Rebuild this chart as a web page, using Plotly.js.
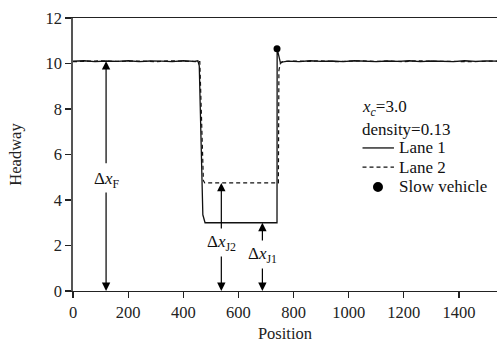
<!DOCTYPE html>
<html>
<head>
<meta charset="utf-8">
<script src="https://cdn.plot.ly/plotly-3.0.1.min.js"></script>
<style>html,body{margin:0;padding:0;background:#fff;}#chart{width:497px;height:347px;}</style>
</head>
<body>
<div id="chart"></div>
<script>
// Lane 1 headway profile (solid)
const lane1Pos = [0, 40, 80, 120, 160, 200, 240, 280, 320, 360, 400, 440, 453, 458, 471, 479, 520, 600, 680, 740, 740.5, 752, 780, 820, 860, 900, 940, 980, 1020, 1060, 1100, 1140, 1180, 1220, 1260, 1300, 1340, 1380, 1420, 1460, 1500, 1540];
const lane1Head = [10.10, 10.12, 10.08, 10.11, 10.09, 10.12, 10.08, 10.11, 10.10, 10.08, 10.12, 10.09, 10.12, 9.9, 3.35, 3.0, 3.0, 3.0, 3.0, 3.0, 10.65, 10.05, 10.1, 10.08, 10.12, 10.09, 10.11, 10.08, 10.12, 10.1, 10.08, 10.11, 10.09, 10.12, 10.08, 10.11, 10.1, 10.08, 10.12, 10.09, 10.11, 10.1];
// Lane 2 headway profile (dashed)
const lane2Pos = [0, 50, 100, 150, 200, 250, 300, 350, 400, 460, 473, 478, 540, 620, 700, 745, 747, 752, 760, 800, 850, 900, 950, 1000, 1050, 1100, 1150, 1200, 1250, 1300, 1350, 1400, 1450, 1500, 1540];
const lane2Head = [10.08, 10.1, 10.12, 10.09, 10.1, 10.11, 10.08, 10.12, 10.1, 10.08, 4.85, 4.75, 4.75, 4.75, 4.75, 4.75, 9.7, 10.0, 10.08, 10.11, 10.09, 10.12, 10.08, 10.1, 10.12, 10.09, 10.11, 10.08, 10.12, 10.1, 10.09, 10.11, 10.08, 10.1, 10.1];
// Slow vehicle
const slowPos = [740];
const slowHead = [10.65];
// Reference gap values shown with arrows
const gapLabels = ['Δ<i>x</i><sub>F</sub>', 'Δ<i>x</i><sub>J2</sub>', 'Δ<i>x</i><sub>J1</sub>'];
const gapValues = [10.1, 4.75, 3.0];
const gapPos = [120, 538, 687];
const xTicks = [0, 200, 400, 600, 800, 1000, 1200, 1400];
const yTicks = [0, 2, 4, 6, 8, 10, 12];

const FONT = '"Liberation Serif", "Times New Roman", serif';

const traces = [
  {x: lane1Pos, y: lane1Head, mode: 'lines', line: {color: '#111', width: 1.3}, name: 'Lane 1'},
  {x: lane2Pos, y: lane2Head, mode: 'lines', line: {color: '#111', width: 1.2, dash: '4px,3px'}, name: 'Lane 2'},
  {x: slowPos, y: slowHead, mode: 'markers', marker: {color: '#000', size: 7}, name: 'Slow vehicle'}
];

// Arrow layout: [upper tail, text y, lower tail] per gap
const arrowGeom = [
  {upTail: 5.55, textY: 4.9, lowTail: 4.4},
  {upTail: 2.68, textY: 2.1, lowTail: 1.58},
  {upTail: 2.15, textY: 1.6, lowTail: 1.05}
];

const annotations = [];
gapValues.forEach((v, i) => {
  const g = arrowGeom[i];
  annotations.push({x: gapPos[i], y: v, ax: gapPos[i], ay: g.upTail, xref: 'x', yref: 'y', axref: 'x', ayref: 'y',
    text: '', showarrow: true, arrowhead: 2, arrowsize: 1.4, arrowwidth: 1.2, arrowcolor: '#000'});
  annotations.push({x: gapPos[i], y: 0, ax: gapPos[i], ay: g.lowTail, xref: 'x', yref: 'y', axref: 'x', ayref: 'y',
    text: '', showarrow: true, arrowhead: 2, arrowsize: 1.4, arrowwidth: 1.2, arrowcolor: '#000'});
  annotations.push({x: gapPos[i], y: g.textY, xref: 'x', yref: 'y', text: gapLabels[i], showarrow: false,
    font: {family: FONT, size: 17, color: '#111'}, xanchor: 'center', yanchor: 'middle'});
});

// Manual legend block
const legX = 0.677, legTextX = 0.764;
const legRows = [0.670, 0.590, 0.524, 0.454, 0.381];
const legFont = {family: FONT, size: 17, color: '#111'};
annotations.push({xref: 'paper', yref: 'paper', x: legX, y: legRows[0], text: '<i>x</i><sub><i>c</i></sub>=3.0', showarrow: false, xanchor: 'left', yanchor: 'middle', font: legFont});
annotations.push({xref: 'paper', yref: 'paper', x: legX, y: legRows[1], text: 'density=0.13', showarrow: false, xanchor: 'left', yanchor: 'middle', font: legFont});
annotations.push({xref: 'paper', yref: 'paper', x: legTextX, y: legRows[2], text: 'Lane 1', showarrow: false, xanchor: 'left', yanchor: 'middle', font: legFont});
annotations.push({xref: 'paper', yref: 'paper', x: legTextX, y: legRows[3], text: 'Lane 2', showarrow: false, xanchor: 'left', yanchor: 'middle', font: legFont});
annotations.push({xref: 'paper', yref: 'paper', x: legTextX, y: legRows[4], text: 'Slow vehicle', showarrow: false, xanchor: 'left', yanchor: 'middle', font: legFont});

const shapes = [
  {type: 'line', xref: 'paper', yref: 'paper', x0: 0.6828, x1: 0.757, y0: legRows[2], y1: legRows[2], line: {color: '#111', width: 1.3}},
  {type: 'line', xref: 'paper', yref: 'paper', x0: 0.6828, x1: 0.757, y0: legRows[3], y1: legRows[3], line: {color: '#111', width: 1.2, dash: '4px,3px'}},
  {type: 'circle', xref: 'paper', yref: 'paper', x0: 0.7193 - 0.0118, x1: 0.7193 + 0.0118, y0: legRows[4] - 0.0183, y1: legRows[4] + 0.0183, fillcolor: '#000', line: {color: '#000', width: 0}}
];

const layout = {
  width: 497, height: 347,
  margin: {l: 73, r: 0, t: 18, b: 56},
  paper_bgcolor: '#fff', plot_bgcolor: '#fff',
  showlegend: false,
  font: {family: FONT, size: 16.5, color: '#222'},
  xaxis: {range: [0, 1538], tickvals: xTicks, ticks: 'outside', ticklen: 6, tickwidth: 1.2, tickcolor: '#222',
    showline: true, linecolor: '#222', linewidth: 1.3, mirror: true, showgrid: false, zeroline: false,
    title: {text: 'Position', font: {family: FONT, size: 16.5, color: '#222'}, standoff: 6}},
  yaxis: {range: [0, 12], tickvals: yTicks, ticks: 'outside', ticklen: 6, tickwidth: 1.2, tickcolor: '#222',
    showline: true, linecolor: '#555', linewidth: 1.8, showgrid: false, zeroline: false,
    title: {text: 'Headway', font: {family: FONT, size: 16.5, color: '#222'}, standoff: 20}},
  annotations: annotations,
  shapes: shapes
};

Plotly.newPlot('chart', traces, layout, {staticPlot: true, displayModeBar: false});
</script>
</body>
</html>
